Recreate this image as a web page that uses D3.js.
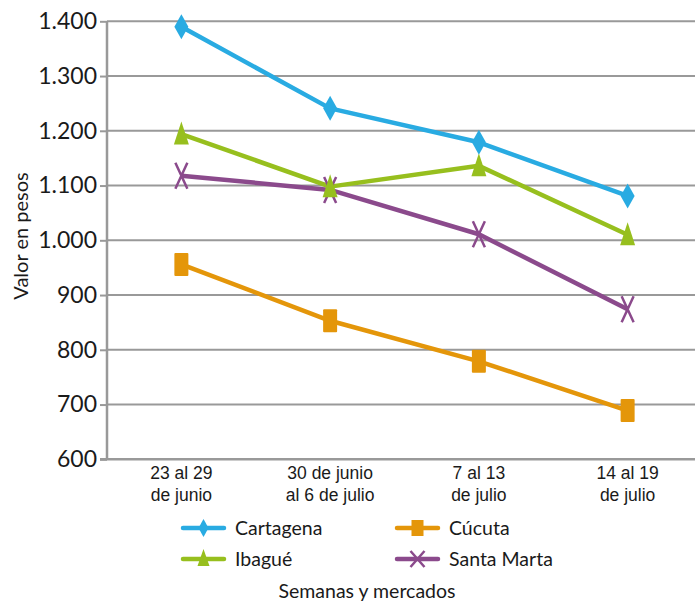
<!DOCTYPE html>
<html><head><meta charset="utf-8">
<script src="https://cdn.jsdelivr.net/npm/d3@7"></script>
<style>body{margin:0;background:#fff}svg{display:block;font-family:Lato,"Noto Sans",sans-serif}</style>
</head><body><svg id="c" width="695" height="604"></svg>
<script>
const categories = [["23 al 29","de junio"],["30 de junio","al 6 de julio"],["7 al 13","de julio"],["14 al 19","de julio"]];
const seriesNames = ["Cartagena","Ibagué","Santa Marta","Cúcuta"];
const cartagena = [1390, 1241, 1179, 1081];
const ibague = [1194, 1098, 1136, 1010];
const santaMarta = [1118, 1092, 1011, 874];
const cucuta = [956, 853, 779, 689];
const yTicks = [600,700,800,900,1000,1100,1200,1300,1400];
const colors = {"Cartagena":"#29abe2","Ibagué":"#97bf1e","Santa Marta":"#8b4a8c","Cúcuta":"#e4960a"};
const markers = {"Cartagena":"diamond","Ibagué":"triangle","Santa Marta":"x","Cúcuta":"square"};
const series = [
  {name:"Cartagena", values:cartagena},
  {name:"Ibagué", values:ibague},
  {name:"Santa Marta", values:santaMarta},
  {name:"Cúcuta", values:cucuta}
];
const svg = d3.select("#c");
const x = d3.scaleBand().domain(d3.range(categories.length)).range([107, 702]);
const y = d3.scaleLinear().domain([600,1400]).range([459.3, 21.3]);
const fmt = v => d3.format(",")(v).replace(/,/g,".");

// grid
svg.append("g").selectAll("line").data(yTicks.slice(1)).join("line")
  .attr("x1",107).attr("x2",695).attr("y1",d=>y(d)).attr("y2",d=>y(d))
  .attr("stroke","#999").attr("stroke-width",2);
// y axis
const ya = svg.append("g").attr("transform","translate(107,0)")
  .call(d3.axisLeft(y).tickValues(yTicks).tickFormat(fmt).tickSize(7).tickPadding(3));
ya.select(".domain").attr("stroke","#999").attr("stroke-width",2.5).attr("d","M0,21.3V459.3");
ya.selectAll(".tick line").attr("stroke","#999").attr("stroke-width",2);
ya.selectAll(".tick text").attr("font-size",23).attr("fill","#1a1a1a").attr("font-family","Lato,sans-serif");
// x axis
const xa = svg.append("g").attr("transform","translate(0,459.3)")
  .call(d3.axisBottom(x).tickSize(0).tickFormat(""));
xa.select(".domain").attr("stroke","#999").attr("stroke-width",2.5).attr("d","M100,0H695");
xa.selectAll(".tick").each(function(d){
  const t = d3.select(this).select("text").attr("font-size",17.5).attr("fill","#1a1a1a").attr("dy",null).attr("y",0);
  t.text(null);
  categories[d].forEach((s,i)=>t.append("tspan").attr("x",0).attr("y",20+i*22).text(s));
});

function drawMarker(g, type, color){
  if(type==="diamond") g.append("path").attr("d","M0,-12.5L7,0L0,12.5L-7,0Z").attr("fill",color);
  else if(type==="square") g.append("rect").attr("x",-7).attr("y",-11.5).attr("width",14).attr("height",23).attr("rx",1).attr("fill",color);
  else if(type==="triangle") g.append("path").attr("d","M0,-12.5L7.5,10.5L-7.5,10.5Z").attr("fill",color);
  else g.append("path").attr("d","M-6,-13L6,13M6,-13L-6,13").attr("stroke",color).attr("stroke-width",2.5).attr("fill","none");
}

const line = d3.line().x((d,i)=>x(i)+x.bandwidth()/2).y(d=>y(d));
series.slice().reverse().forEach(s=>{
  svg.append("path").datum(s.values).attr("d",line).attr("fill","none")
    .attr("stroke",colors[s.name]).attr("stroke-width",4.5).attr("stroke-linejoin","round");
});
series.slice().reverse().forEach(s=>{
  s.values.forEach((v,i)=>{
    const g = svg.append("g").attr("transform",`translate(${x(i)+x.bandwidth()/2},${y(v)})`);
    drawMarker(g, markers[s.name], colors[s.name]);
  });
});

// legend
const legendItems = [
  {name:"Cartagena", lx:183, ly:528},
  {name:"Cúcuta", lx:397, ly:528},
  {name:"Ibagué", lx:183, ly:559},
  {name:"Santa Marta", lx:397, ly:559}
];
legendItems.forEach(it=>{
  const g = svg.append("g");
  g.append("line").attr("x1",it.lx).attr("x2",it.lx+41).attr("y1",it.ly).attr("y2",it.ly)
    .attr("stroke",colors[it.name]).attr("stroke-width",4.5).attr("stroke-linecap","round");
  const m = g.append("g").attr("transform",`translate(${it.lx+20.5},${it.ly})`);
  if(markers[it.name]==="diamond") m.append("path").attr("d","M0,-9L5,0L0,9L-5,0Z").attr("fill",colors[it.name]);
  else if(markers[it.name]==="square") m.append("rect").attr("x",-6).attr("y",-8).attr("width",12).attr("height",16).attr("fill",colors[it.name]);
  else if(markers[it.name]==="triangle") m.append("path").attr("d","M0,-10L6,7L-6,7Z").attr("fill",colors[it.name]);
  else m.append("path").attr("d","M-7,-8L7,8M7,-8L-7,8").attr("stroke",colors[it.name]).attr("stroke-width",2.5);
  g.append("text").attr("x",it.lx+52).attr("y",it.ly).attr("dy","0.35em")
    .attr("font-size",19.5).attr("fill","#1a1a1a").text(it.name);
});

svg.append("text").attr("x",367).attr("y",591).attr("dy","0.35em").attr("text-anchor","middle")
  .attr("font-size",19.5).attr("fill","#1a1a1a").text("Semanas y mercados");
svg.append("text").attr("transform","translate(21,236) rotate(-90)").attr("dy","0.35em")
  .attr("text-anchor","middle").attr("font-size",20).attr("fill","#1a1a1a").text("Valor en pesos");
</script></body></html>
